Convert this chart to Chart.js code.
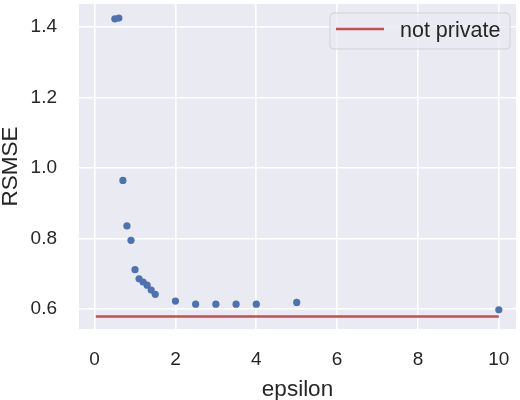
<!DOCTYPE html>
<html>
<head>
<meta charset="utf-8">
<script src="https://cdn.jsdelivr.net/npm/chart.js@4/dist/chart.umd.min.js"></script>
<style>
html,body{margin:0;padding:0;background:#fff;}
#wrap{width:520px;height:400px;}
</style>
</head>
<body>
<div id="wrap"><canvas id="c" width="520" height="400"></canvas></div>
<script>
const epsilon = [0.5, 0.6, 0.7, 0.8, 0.9, 1.0, 1.1, 1.2, 1.3, 1.4, 1.5, 2.0, 2.5, 3.0, 3.5, 4.0, 5.0, 10.0];
const rsmse   = [1.423, 1.425, 0.965, 0.836, 0.795, 0.712, 0.686, 0.677, 0.668, 0.654, 0.642, 0.623, 0.614, 0.614, 0.614, 0.614, 0.619, 0.598];
const notPrivateX = [0.03, 10.0];
const notPrivateY = [0.579, 0.579];
const xTicks = [0, 2, 4, 6, 8, 10];
const yTicks = [0.6, 0.8, 1.0, 1.2, 1.4];
const yTickLabels = ['0.6', '0.8', '1.0', '1.2', '1.4'];
const xTitle = 'epsilon';
const yTitle = 'RSMSE';
const lineLabel = 'not private';

const FONT = "'Liberation Sans', Arial, sans-serif";
const TXT = '#262626';

const bgPlugin = {
  id: 'bg',
  beforeDraw(chart) {
    const {ctx, chartArea: a} = chart;
    ctx.save();
    ctx.fillStyle = '#EAEAF2';
    ctx.fillRect(a.left, a.top, a.right - a.left, a.bottom - a.top);
    ctx.restore();
  }
};

const legendPlugin = {
  id: 'boxLegend',
  afterDraw(chart) {
    const ds = chart.data.datasets[1];
    const ctx = chart.ctx;
    const x0 = 330, y0 = 13, w = 180, h = 36, r = 4;
    ctx.save();
    ctx.beginPath();
    ctx.moveTo(x0 + r, y0);
    ctx.arcTo(x0 + w, y0, x0 + w, y0 + h, r);
    ctx.arcTo(x0 + w, y0 + h, x0, y0 + h, r);
    ctx.arcTo(x0, y0 + h, x0, y0, r);
    ctx.arcTo(x0, y0, x0 + w, y0, r);
    ctx.closePath();
    ctx.fillStyle = 'rgba(234,234,242,0.8)';
    ctx.fill();
    ctx.strokeStyle = 'rgba(204,204,204,0.8)';
    ctx.lineWidth = 1;
    ctx.stroke();
    ctx.beginPath();
    ctx.moveTo(336, 29);
    ctx.lineTo(384, 29);
    ctx.strokeStyle = ds.borderColor;
    ctx.lineWidth = 2.5;
    ctx.stroke();
    ctx.fillStyle = TXT;
    ctx.font = "21.5px " + FONT;
    ctx.textBaseline = 'middle';
    ctx.textAlign = 'left';
    ctx.fillText(ds.label, 400, 31);
    ctx.restore();
  }
};

new Chart(document.getElementById('c'), {
  type: 'scatter',
  data: {
    datasets: [
      {
        label: 'RSMSE',
        data: epsilon.map((e, i) => ({x: e, y: rsmse[i]})),
        backgroundColor: '#4C72B0',
        borderColor: '#4C72B0',
        borderWidth: 0,
        pointRadius: 3.6,
        order: 1
      },
      {
        type: 'line',
        label: lineLabel,
        data: notPrivateX.map((e, i) => ({x: e, y: notPrivateY[i]})),
        borderColor: '#C44E52',
        backgroundColor: '#C44E52',
        borderWidth: 2.5,
        pointRadius: 0,
        fill: false,
        order: 2
      }
    ]
  },
  options: {
    responsive: false,
    animation: false,
    devicePixelRatio: 1,
    layout: {padding: {top: 2, right: 0, left: 0, bottom: 0}},
    plugins: {legend: {display: false}, tooltip: {enabled: false}},
    scales: {
      x: {
        type: 'linear',
        min: -0.386,
        max: 10.425,
        afterBuildTicks(s) { s.ticks = xTicks.map(v => ({value: v})); },
        afterFit(s) { s.height = 71; s.paddingLeft = 0; s.paddingRight = 0; },
        grid: {color: '#ffffff', lineWidth: 1.6, drawTicks: false},
        border: {display: false},
        ticks: {
          color: TXT,
          padding: 19,
          font: {family: FONT, size: 19},
          callback: v => String(v)
        },
        title: {
          display: true,
          text: xTitle,
          color: TXT,
          font: {family: FONT, size: 22.5, lineHeight: 0.95},
          padding: {top: 0, bottom: 0}
        }
      },
      y: {
        type: 'linear',
        min: 0.5437,
        max: 1.465,
        afterBuildTicks(s) { s.ticks = yTicks.map(v => ({value: v})); },
        afterFit(s) { s.width = 79; s.paddingTop = 0; s.paddingBottom = 0; },
        grid: {color: '#ffffff', lineWidth: 1.6, drawTicks: false},
        border: {display: false},
        ticks: {
          color: TXT,
          padding: 22,
          font: {family: FONT, size: 19},
          callback: (v) => { const i = yTicks.findIndex(t => Math.abs(t - v) < 1e-9); return i >= 0 ? yTickLabels[i] : ''; }
        },
        title: {
          display: true,
          text: yTitle,
          color: TXT,
          font: {family: FONT, size: 22.5, lineHeight: 1.0},
          padding: {top: 0, bottom: 0}
        }
      }
    }
  },
  plugins: [bgPlugin, legendPlugin]
});
</script>
</body>
</html>
